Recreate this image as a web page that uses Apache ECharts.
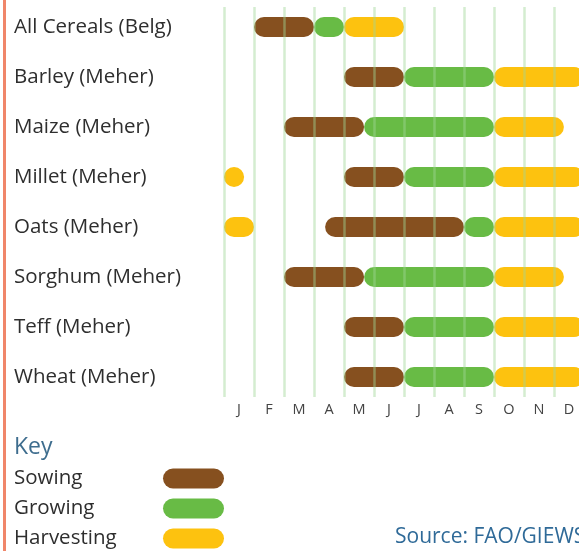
<!DOCTYPE html>
<html>
<head>
<meta charset="utf-8">
<script src="https://cdn.jsdelivr.net/npm/echarts@6/dist/echarts.min.js"></script>
<style>
  html, body { margin: 0; padding: 0; background: #ffffff; }
  #chart { width: 579px; height: 551px; }
</style>
</head>
<body>
<div id="chart"></div>
<script>
// Crop calendar: months as 0..12 (0 = start of January), one row per crop
const crops = [
  'All Cereals (Belg)', 'Barley (Meher)', 'Maize (Meher)', 'Millet (Meher)',
  'Oats (Meher)', 'Sorghum (Meher)', 'Teff (Meher)', 'Wheat (Meher)'
];
const months = ['J', 'F', 'M', 'A', 'M', 'J', 'J', 'A', 'S', 'O', 'N', 'D'];

// [crop row, start month, end month]
const sowing = [
  [0, 1, 3], [1, 4, 6], [2, 2, 4.67], [3, 4, 6],
  [4, 3.37, 8], [5, 2, 4.67], [6, 4, 6], [7, 4, 6]
];
const growing = [
  [0, 3, 4], [1, 6, 9], [2, 4.67, 9], [3, 6, 9],
  [4, 8, 9], [5, 4.67, 9], [6, 6, 9], [7, 6, 9]
];
const harvesting = [
  [0, 4, 6], [1, 9, 12], [2, 9, 11.33], [3, 0, 0.67], [3, 9, 12],
  [4, 0, 1], [4, 9, 12], [5, 9, 11.33], [6, 9, 12], [7, 9, 12]
];

const stageNames = ['Sowing', 'Growing', 'Harvesting'];
const stageColors = ['#86501f', '#68bb45', '#fdc20f'];
const stageData = [sowing, growing, harvesting];

const chart = echarts.init(document.getElementById('chart'));

// Rounded bar spanning [start, end] on the month axis
function pill(params, api) {
  const y = api.value(0);
  const a = api.coord([api.value(1), y]);
  const b = api.coord([api.value(2), y]);
  const h = 20;
  return {
    type: 'rect',
    shape: { x: a[0], y: a[1] - h / 2, width: b[0] - a[0], height: h, r: h / 2 },
    style: { fill: api.visual('color') }
  };
}

const font = '"Open Sans", "Noto Sans", sans-serif';

chart.setOption({
  backgroundColor: '#ffffff',
  animation: false,
  // the calendar runs slightly past the right edge of the canvas
  grid: [
    { left: 224, width: 360, top: 2, height: 400, outerBoundsMode: 'none', containLabel: false },
    { left: 224, width: 360, top: 7, height: 390, outerBoundsMode: 'none', containLabel: false }
  ],
  xAxis: [
    { gridIndex: 0, type: 'value', min: 0, max: 12, show: false },
    {
      gridIndex: 1, type: 'category', data: months, boundaryGap: true, z: 10,
      axisLine: { show: false }, axisTick: { show: false },
      axisLabel: { color: '#444444', fontSize: 14.5, fontFamily: font, margin: 5 },
      splitLine: { show: true, interval: 0, lineStyle: { color: 'rgba(160,215,150,0.45)', width: 2.5 } }
    }
  ],
  yAxis: [
    {
      gridIndex: 0, type: 'category', data: crops, inverse: true,
      axisLine: { show: false }, axisTick: { show: false }, splitLine: { show: false },
      axisLabel: { align: 'left', margin: 210, color: '#2e2e2e', fontSize: 20.5, fontFamily: font }
    },
    { gridIndex: 1, type: 'value', show: false }
  ],
  legend: {
    orient: 'vertical', left: 14, top: 468, height: 100, align: 'right',
    padding: 0,
    itemWidth: 61, itemHeight: 20, itemGap: 9, selectedMode: false,
    icon: 'path://M10,0 H51 A10,10 0 0 1 51,20 H10 A10,10 0 0 1 10,0 Z',
    data: stageNames,
    formatter: '{n|{name}}',
    textStyle: {
      rich: { n: { width: 144, height: 20, lineHeight: 20, align: 'left', fontSize: 20.5, color: '#2e2e2e', fontFamily: font } }
    }
  },
  graphic: [
    { type: 'rect', left: 3, top: 0, shape: { width: 3, height: 551 }, style: { fill: '#f0866a' } },
    {
      type: 'text', left: 14, top: 436,
      style: { text: 'Key', fill: '#3e6d8e', font: '23px ' + font }
    },
    {
      type: 'text', x: 395, y: 527,
      style: { text: 'Source: FAO/GIEWS', fill: '#2f6a98', font: '21px ' + font }
    }
  ],
  series: stageNames.map((name, i) => ({
    name: name,
    type: 'custom',
    xAxisIndex: 0, yAxisIndex: 0,
    renderItem: pill,
    itemStyle: { color: stageColors[i] },
    encode: { x: [1, 2], y: 0 },
    data: stageData[i]
  }))
});
</script>
</body>
</html>
